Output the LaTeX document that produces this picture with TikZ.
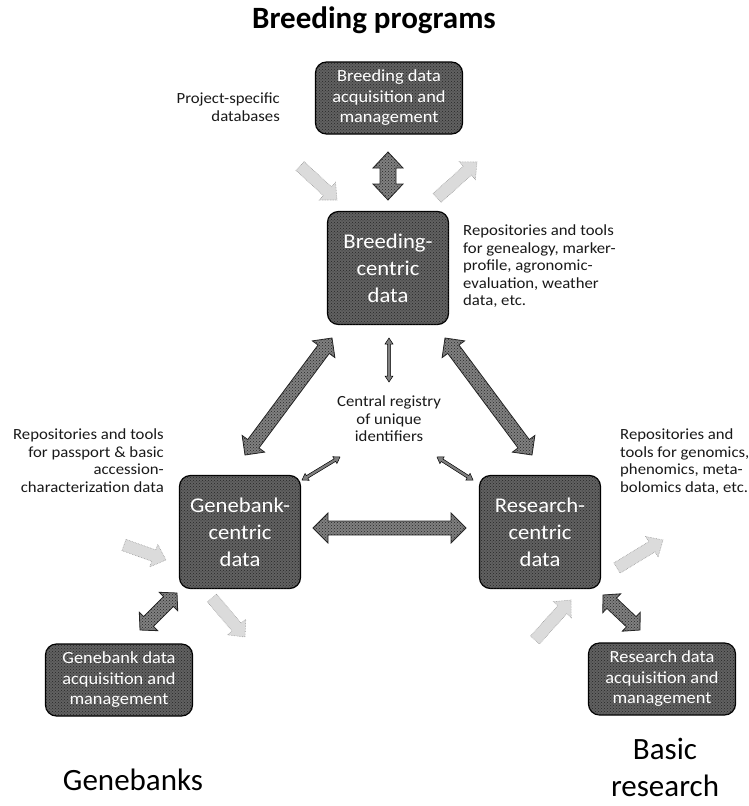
\documentclass[tikz,border=0pt]{standalone}
\usepackage{fontspec}
\setmainfont{Carlito}[FakeStretch=1.08]
\newfontfamily\bigfont{Carlito}
\usetikzlibrary{calc,patterns}

% double-headed arrow polygon: style, end A, end B, shaft half width, head half width, head length
\newcommand{\dblarr}[6]{%
  \coordinate (hA) at ($(#2)!#6!(#3)$);
  \coordinate (hB) at ($(#3)!#6!(#2)$);
  \draw[#1] (#2) -- ($(hA)!#5!90:(#3)$) -- ($(hA)!#4!90:(#3)$)
    -- ($(hB)!#4!-90:(#2)$) -- ($(hB)!#5!-90:(#2)$) -- (#3)
    -- ($(hB)!#5!90:(#2)$) -- ($(hB)!#4!90:(#2)$)
    -- ($(hA)!#4!-90:(#3)$) -- ($(hA)!#5!-90:(#3)$) -- cycle;
}
% single-headed arrow polygon: style, tail A, head B, shaft half width, head half width, head length
\newcommand{\sglarr}[6]{%
  \coordinate (hB) at ($(#3)!#6!(#2)$);
  \draw[#1] ($(#2)!#4!90:(#3)$) -- ($(hB)!#4!-90:(#2)$) -- ($(hB)!#5!-90:(#2)$)
    -- (#3) -- ($(hB)!#5!90:(#2)$) -- ($(hB)!#4!90:(#2)$)
    -- ($(#2)!#4!-90:(#3)$) -- cycle;
}

\begin{document}
\begin{tikzpicture}[x=1pt,y=-1pt,
  box/.style={draw=black, line width=1.2pt, rounded corners=11pt, fill=black!62,
    postaction={pattern=crosshatch dots, pattern color=black!85},
    text=white, align=center, inner sep=0pt},
  bigbox/.style={box, minimum width=121pt, minimum height=113pt, font=\fontsize{21}{27}\selectfont},
  acqbox/.style={box, minimum width=147pt, minimum height=72pt, font=\fontsize{17}{20.5}\selectfont},
  note/.style={font=\fontsize{15.5}{17.5}\selectfont, inner sep=0pt, text=black!90},
  heading/.style={font=\bigfont\fontsize{31}{37}\selectfont, inner sep=0pt, align=center},
  darkarr/.style={draw=black!85, line width=0.8pt, fill=black!50,
    postaction={pattern=crosshatch dots, pattern color=black!85}},
  fadearr/.style={draw=black!40, line width=0.6pt, densely dotted, fill=black!14},
  thinarr/.style={draw=black, line width=0.5pt, fill=black!50}
]
\useasboundingbox (0,0) rectangle (748,806);

% headings
\node[heading] (tbp) at (374,20) {\bfseries Breeding programs};
\node[heading] (tgb) at (133,780) {Genebanks};
\node[heading] (tbr) at (665,767) {Basic\\research};

% boxes
\node[acqbox] (bacq) at (389,98) {Breeding data\\acquisition and\\management};
\node[bigbox] (bc) at (388,268) {Breeding-\\centric\\data};
\node[bigbox] (gc) at (240,532) {Genebank-\\centric\\data};
\node[bigbox] (rc) at (540,532) {Research-\\centric\\data};
\node[acqbox] (gacq) at (119,680) {Genebank data\\acquisition and\\management};
\node[acqbox] (racq) at (662,679) {Research data\\acquisition and\\management};

% notes
\node[note, align=right, anchor=north east] (psd) at (280,93) {Project-specific\\databases};
\node[note, align=left, anchor=north west] (brt) at (463,225) {Repositories and tools\\for genealogy, marker-\\profile, agronomic-\\evaluation, weather\\data, etc.};
\node[note, align=center, anchor=north] (crg) at (389,396) {Central registry\\of unique\\identifiers};
\node[note, align=right, anchor=north east] (gbt) at (164,429) {Repositories and tools\\for passport \& basic\\accession-\\characterization data};
\node[note, align=left, anchor=north west] (rst) at (620,429) {Repositories and\\tools for genomics,\\phenomics, meta-\\bolomics data, etc.};

% arrow end points
\coordinate (v1a) at (388,152); \coordinate (v1b) at (388,200);
\coordinate (tfl1) at (300,166); \coordinate (tfl2) at (337,200);
\coordinate (tfr1) at (437,198); \coordinate (tfr2) at (477,162);
\coordinate (dl1) at (332,338); \coordinate (dl2) at (245,455);
\coordinate (dr1) at (445,338); \coordinate (dr2) at (532,455);
\coordinate (hz1) at (313,528); \coordinate (hz2) at (466,528);
\coordinate (tv1) at (389,338); \coordinate (tv2) at (389,382);
\coordinate (tl1) at (340,457); \coordinate (tl2) at (302,480);
\coordinate (tr1) at (437,457); \coordinate (tr2) at (473,480);
\coordinate (gf1) at (124,545); \coordinate (gf2) at (166,560);
\coordinate (gd1) at (177,593); \coordinate (gd2) at (140,630);
\coordinate (go1) at (212,598); \coordinate (go2) at (245,637);
\coordinate (ri1) at (535,640); \coordinate (ri2) at (571,600);
\coordinate (rd1) at (603,595); \coordinate (rd2) at (640,630);
\coordinate (ro1) at (617,568); \coordinate (ro2) at (663,540);

% dark double arrows
\dblarr{darkarr}{v1a}{v1b}{8pt}{15pt}{16pt}
\dblarr{darkarr}{dl1}{dl2}{7pt}{14pt}{14pt}
\dblarr{darkarr}{dr1}{dr2}{7pt}{14pt}{14pt}
\dblarr{darkarr}{hz1}{hz2}{7pt}{15pt}{15pt}
\dblarr{darkarr}{gd1}{gd2}{7pt}{13pt}{12pt}
\dblarr{darkarr}{rd1}{rd2}{7pt}{13pt}{12pt}

% thin arrows to the central registry
\dblarr{thinarr}{tv1}{tv2}{1.5pt}{4pt}{6pt}
\dblarr{thinarr}{tl1}{tl2}{1.5pt}{4pt}{6pt}
\dblarr{thinarr}{tr1}{tr2}{1.5pt}{4pt}{6pt}

% faded single arrows
\sglarr{fadearr}{tfl1}{tfl2}{6pt}{12pt}{13pt}
\sglarr{fadearr}{tfr1}{tfr2}{6pt}{12pt}{13pt}
\sglarr{fadearr}{gf1}{gf2}{6pt}{12pt}{13pt}
\sglarr{fadearr}{go1}{go2}{6pt}{12pt}{13pt}
\sglarr{fadearr}{ri1}{ri2}{6pt}{12pt}{13pt}
\sglarr{fadearr}{ro1}{ro2}{6pt}{12pt}{13pt}
\end{tikzpicture}
\end{document}
